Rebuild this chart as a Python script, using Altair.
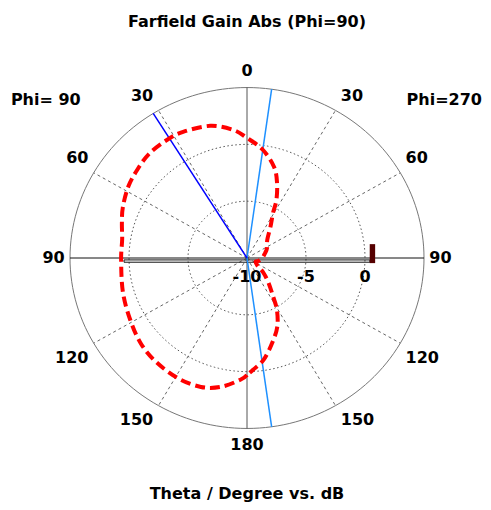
import altair as alt
import numpy as np
import pandas as pd

# ---- data ----
# signed theta: negative = Phi=90 side (left), positive = Phi=270 side (right)
theta_deg = [-180, -177, -169, -161, -151, -140, -130, -119, -106, -91, -81, -74, -67,
             -58, -50, -42, -33, -26, -15, -6, 0, 8, 16, 21, 26, 29, 36, 47, 63, 74,
             90, 105, 115, 129, 133, 140, 147, 151, 157, 164, 171, 177, 180]
gain_db = [0.3, 0.73, 1.55, 2.0, 2.09, 1.96, 1.73, 1.30, 0.94, 0.67, 0.71, 1.03, 1.43,
           1.86, 2.12, 2.37, 2.41, 2.35, 2.04, 1.34, 0.57, -0.38, -1.67, -2.9, -4.31, -5.44,
           -6.62, -7.65, -8.1, -8.4, -8.7, -9.0, -9.2, -8.77, -8.1, -7.17, -5.92, -4.77,
           -3.43, -2.24, -0.94, -0.15, 0.3]

main_lobe_deg = [-32]
beam_edge_deg = [8, 172]
marker_db = 0.42
radial_ticks = [-10, -5, 0]
angle_ticks = [0, 30, 60, 90, 120, 150, 180]
spoke_deg = [-150, -120, -60, -30, 30, 60, 120, 150]
r_min, r_max = -10, 5
title = "Farfield Gain Abs (Phi=90)"
subtitle = "Theta / Degree vs. dB"
phi_left, phi_right = "Phi= 90", "Phi=270"

R = r_max - r_min
FONT = "DejaVu Sans"

xs = alt.Scale(domain=[-20, 20], nice=False, zero=False)
ys = alt.Scale(domain=[-22, 22], nice=False, zero=False)


def X(f):
    return alt.X(f, type="quantitative", scale=xs, axis=None)


def Y(f):
    return alt.Y(f, type="quantitative", scale=ys, axis=None)


def polar(deg, r):
    a = np.radians(np.asarray(deg, dtype=float))
    return np.asarray(r) * np.sin(a), np.asarray(r) * np.cos(a)


# curve
cx, cy = polar(theta_deg, np.array(gain_db) - r_min)
curve = pd.DataFrame({"x": cx, "y": cy, "o": range(len(cx))})

# grid circles
circ_rows = []
for lvl in [-5, 0, 5]:
    t = np.linspace(0, 360, 181)
    gx, gy = polar(t, lvl - r_min)
    for i, (a, b) in enumerate(zip(gx, gy)):
        circ_rows.append({"x": a, "y": b, "o": i, "lvl": lvl})
circ = pd.DataFrame(circ_rows)

sx, sy = polar(spoke_deg, R)
spokes = pd.DataFrame({"x": 0.0, "y": 0.0, "x2": sx, "y2": sy})

lx, ly = polar(main_lobe_deg, R)
lobe = pd.DataFrame({"x": 0.0, "y": 0.0, "x2": lx, "y2": ly})
bx, by = polar(beam_edge_deg, R)
beam = pd.DataFrame({"x": 0.0, "y": 0.0, "x2": bx, "y2": by})

axes_df = pd.DataFrame({"x": [0.0, -R], "y": [-R, 0.0], "x2": [0.0, R], "y2": [R, 0.0],
                        "k": ["v", "h"]})

mr = marker_db - r_min
box = pd.DataFrame({"x": [-mr], "x2": [mr], "y": [-0.17], "y2": [-0.37]})
marker = pd.DataFrame({"x": [mr - 0.02], "x2": [mr + 0.44], "y": [1.22], "y2": [-0.45]})

rlab = pd.DataFrame({"x": [t - r_min for t in radial_ticks], "y": -1.66,
                     "t": [str(t) for t in radial_ticks]})

# angle labels, both sides
lab_rows = []
for a in angle_ticks:
    for side in ([-1, 1] if a not in (0, 180) else [0]):
        ang = a * (side if side else 1)
        px, py = polar([ang], R)
        su = np.sign(px[0]) if abs(px[0]) > 1e-6 else 0
        sv = np.sign(py[0]) if abs(py[0]) > 1e-6 else 0
        extra = 1.45 if a in (0, 180) else 1.27
        lab_rows.append({"x": px[0] + su * 0.45, "y": py[0] + sv * extra,
                         "t": str(a),
                         "al": "L" if su < 0 else ("R" if su > 0 else "C")})
alab = pd.DataFrame(lab_rows)

texts = pd.DataFrame({"x": [0.0, 0.0, -17.05, 16.72], "y": [20.73, -20.79, 13.91, 13.91],
                      "t": [title, subtitle, phi_left, phi_right]})

layers = []
# dotted circles
layers.append(alt.Chart(circ[circ.lvl < 5]).mark_line(
    color="#555555", strokeWidth=1, strokeDash=[1.5, 2.5]).encode(
    x=X("x"), y=Y("y"), order="o:Q", detail="lvl:N"))
# spokes
layers.append(alt.Chart(spokes).mark_rule(color="#666666", strokeWidth=1, strokeDash=[3, 3]).encode(
    x=X("x"), y=Y("y"), x2="x2", y2="y2"))
# outer circle
layers.append(alt.Chart(circ[circ.lvl == 5]).mark_line(color="#777777", strokeWidth=1).encode(
    x=X("x"), y=Y("y"), order="o:Q"))
# axes
layers.append(alt.Chart(axes_df[axes_df.k == "v"]).mark_rule(color="#555555", strokeWidth=1).encode(
    x=X("x"), y=Y("y"), x2="x2", y2="y2"))
layers.append(alt.Chart(axes_df[axes_df.k == "h"]).mark_rule(color="#111111", strokeWidth=1).encode(
    x=X("x"), y=Y("y"), x2="x2", y2="y2"))
# box
layers.append(alt.Chart(box).mark_rect(fill="white", fillOpacity=0, stroke="#111111", strokeWidth=1).encode(
    x=X("x"), x2="x2", y=Y("y"), y2="y2"))
# beam lines
layers.append(alt.Chart(beam).mark_rule(color="#1e90ff", strokeWidth=1.5).encode(
    x=X("x"), y=Y("y"), x2="x2", y2="y2"))
layers.append(alt.Chart(lobe).mark_rule(color="#0000ff", strokeWidth=1.5).encode(
    x=X("x"), y=Y("y"), x2="x2", y2="y2"))
# curve
layers.append(alt.Chart(curve).mark_line(color="#ff0000", strokeWidth=4, strokeDash=[10, 5],
                                         interpolate="cardinal").encode(
    x=X("x"), y=Y("y"), order="o:Q"))
# marker
layers.append(alt.Chart(marker).mark_rect(color="#550000").encode(
    x=X("x"), x2="x2", y=Y("y"), y2="y2"))
# radial labels
layers.append(alt.Chart(rlab).mark_text(font=FONT, fontSize=16, fontWeight="bold", color="black",
                                        baseline="middle").encode(
    x=X("x"), y=Y("y"), text="t:N"))
# angle labels
for al, align in [("L", "right"), ("R", "left"), ("C", "center")]:
    layers.append(alt.Chart(alab[alab.al == al]).mark_text(
        font=FONT, fontSize=16, fontWeight="bold", color="black", align=align,
        baseline="middle").encode(x=X("x"), y=Y("y"), text="t:N"))
# titles
layers.append(alt.Chart(texts).mark_text(font=FONT, fontSize=16, fontWeight="bold", color="black",
                                         baseline="middle").encode(
    x=X("x"), y=Y("y"), text="t:N"))

chart = alt.layer(*layers).properties(
    width=472, height=500,
    autosize=alt.AutoSizeParams(type="none"),
    padding={"left": 3, "top": 0, "right": 0, "bottom": 0},
).configure_view(stroke=None)

chart.save("out.html", embed_options={"renderer": "svg", "actions": False})
